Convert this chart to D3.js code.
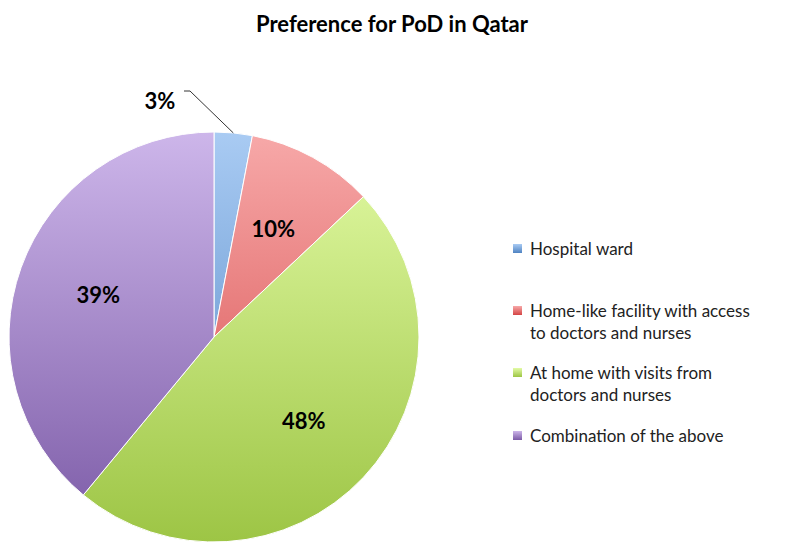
<!DOCTYPE html>
<html><head><meta charset="utf-8">
<script src="https://cdn.jsdelivr.net/npm/d3@7"></script>
<style>body{margin:0;background:#fff}text{font-family:Lato,"Open Sans",sans-serif}</style>
</head><body><div id="chart"></div>
<script>
const categories = ["Hospital ward", "Home-like facility with access to doctors and nurses", "At home with visits from doctors and nurses", "Combination of the above"];
const legendLines = [["Hospital ward"], ["Home-like facility with access", "to doctors and nurses"], ["At home with visits from", "doctors and nurses"], ["Combination of the above"]];
const values = [3, 10, 48, 39];
const lightColors = ["#a9cbf3", "#f7a9a9", "#e3fba6", "#cdb6ea"];
const darkColors = ["#4f83c2", "#d44444", "#9dc545", "#7b5aa6"];

const W = 785, H = 551, cx = 214, cy = 337, r = 205;
const svg = d3.select("#chart").append("svg").attr("width", W).attr("height", H);

svg.append("text").attr("x", 392).attr("y", 32).attr("text-anchor", "middle")
  .attr("font-size", 22).attr("font-weight", "bold").text("Preference for PoD in Qatar");

const defs = svg.append("defs");
categories.forEach((c, i) => {
  const g = defs.append("linearGradient").attr("id", "g" + i)
    .attr("gradientUnits", "userSpaceOnUse").attr("x1", 0).attr("y1", -r).attr("x2", 0).attr("y2", r);
  g.append("stop").attr("offset", "0%").attr("stop-color", lightColors[i]);
  g.append("stop").attr("offset", "100%").attr("stop-color", darkColors[i]);
});

const pie = d3.pie().sort(null).value(d => d)(values);
const arc = d3.arc().innerRadius(0).outerRadius(r);
const g = svg.append("g").attr("transform", `translate(${cx},${cy})`);
g.selectAll("path").data(pie).join("path")
  .attr("d", arc).attr("fill", (d, i) => `url(#g${i})`)
  .attr("stroke", "#fff").attr("stroke-width", 1);

const labelArc = d3.arc().innerRadius(r * 0.6).outerRadius(r * 0.6);
g.selectAll("text.lab").data(pie).join("text").attr("class", "lab")
  .attr("transform", (d, i) => {
    if (i === 0) return `translate(${-54},${-236})`;
    const [x, y] = labelArc.centroid(d);
    return `translate(${x},${y})`;
  })
  .attr("text-anchor", "middle").attr("dy", "0.35em")
  .attr("font-size", 22).attr("font-weight", "bold")
  .text(d => d.data + "%");

// leader line for the small slice
const a0 = (pie[0].startAngle + pie[0].endAngle) / 2;
g.append("polyline").attr("fill", "none").attr("stroke", "#000").attr("stroke-width", 0.8)
  .attr("points", [[-30, -246], [-24, -246], [Math.sin(a0) * r, -Math.cos(a0) * r]].map(p => p.join(",")).join(" "));

const leg = svg.append("g");
const legY = [249, 311, 373, 436];
legendLines.forEach((lines, i) => {
  leg.append("rect").attr("x", 513).attr("y", legY[i] - 5).attr("width", 9).attr("height", 9)
    .attr("fill", `url(#lg${i})`);
  const lg = defs.append("linearGradient").attr("id", "lg" + i).attr("x1", 0).attr("y1", 0).attr("x2", 0).attr("y2", 1);
  lg.append("stop").attr("offset", "0%").attr("stop-color", lightColors[i]);
  lg.append("stop").attr("offset", "100%").attr("stop-color", darkColors[i]);
  lines.forEach((t, j) => leg.append("text").attr("x", 530).attr("y", legY[i] + j * 22)
    .attr("dy", "0.35em").attr("font-size", 17).attr("fill", "#222").text(t));
});
</script></body></html>
